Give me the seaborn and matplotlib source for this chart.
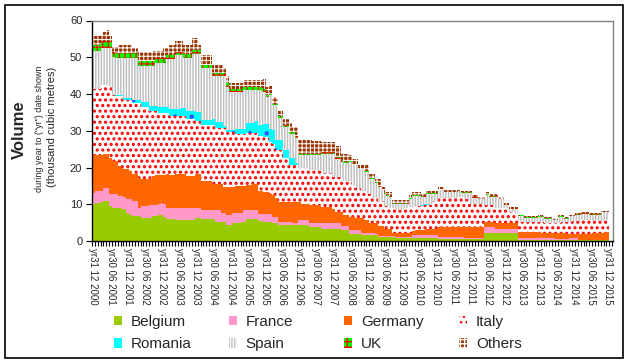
import numpy as np
import pandas as pd
import matplotlib
matplotlib.use("Agg")
import matplotlib.pyplot as plt
import seaborn as sns
from matplotlib.patches import Patch, Rectangle

tick_labels = ["yr31 12 2000", "yr30 06 2001", "yr31 12 2001", "yr30 06 2002", "yr31 12 2002",
               "yr30 06 2003", "yr31 12 2003", "yr30 06 2004", "yr31 12 2004", "yr30 06 2005",
               "yr31 12 2005", "yr30 06 2006", "yr31 12 2006", "yr30 06 2007", "yr31 12 2007",
               "yr30 06 2008", "yr31 12 2008", "yr30 06 2009", "yr31 12 2009", "yr30 06 2010",
               "yr31 12 2010", "yr30 06 2011", "yr31 12 2011", "yr30 06 2012", "yr31 12 2012",
               "yr30 06 2013", "yr31 12 2013", "yr30 06 2014", "yr31 12 2014", "yr30 06 2015",
               "yr31 12 2015"]

belgium = [
    10.1, 10.4, 10.4, 10.7, 10.8, 10.9, 9.5, 9.0, 9.0, 9.0,
    8.6, 8.6, 7.7, 7.2, 6.8, 6.8, 6.8, 6.3, 6.3, 6.3,
    6.3, 6.7, 6.7, 7.0, 7.0, 6.5, 5.9, 5.9, 5.9, 5.6,
    5.6, 5.6, 5.6, 5.6, 5.6, 5.6, 6.3, 6.3, 5.9, 5.9,
    5.9, 5.9, 5.9, 5.2, 5.2, 5.2, 5.2, 4.3, 4.3, 5.0,
    5.0, 5.0, 5.2, 5.2, 5.9, 5.9, 5.9, 5.9, 5.4, 5.4,
    5.2, 5.2, 5.2, 4.8, 4.8, 4.3, 4.3, 4.3, 4.3, 4.3,
    4.3, 4.3, 4.3, 4.3, 4.3, 4.3, 3.9, 3.9, 3.9, 3.9,
    3.4, 3.4, 3.4, 3.4, 3.4, 3.4, 3.4, 3.0, 3.0, 3.0,
    2.0, 2.0, 2.0, 2.0, 1.5, 1.5, 1.5, 1.5, 1.5, 1.5,
    1.0, 1.0, 1.0, 1.0, 1.0, 1.0, 0.9, 0.9, 0.9, 0.9,
    0.9, 0.9, 0.9, 0.9, 0.9, 0.9, 0.9, 0.9, 0.9, 0.9,
    0.9, 0.6, 0.6, 0.6, 0.6, 0.6, 0.6, 0.6, 0.6, 0.6,
    0.6, 0.6, 0.6, 0.6, 0.6, 0.6, 0.6, 2.1, 2.1, 2.1,
    2.1, 2.1, 2.1, 2.1, 2.1, 2.1, 2.1, 2.1, 2.1, 0.3,
    0.3, 0.3, 0.3, 0.3, 0.3, 0.3, 0.3, 0.3, 0.3, 0.3,
    0.3, 0.3, 0.3, 0.3, 0.3, 0.3, 0.3, 0.3, 0.3, 0.3,
    0.3, 0.3, 0.3, 0.3, 0.3, 0.3, 0.3, 0.3, 0.3, 0.3,
    0.3]

france = [
    3.0, 3.2, 3.2, 2.9, 3.7, 3.6, 3.4, 3.7, 3.7, 3.2,
    3.6, 3.3, 3.6, 4.1, 4.1, 4.1, 2.2, 3.2, 3.2, 3.2,
    3.5, 3.1, 3.1, 3.0, 3.4, 3.5, 3.1, 3.1, 3.1, 3.4,
    3.4, 3.4, 3.4, 3.3, 3.3, 3.3, 2.7, 2.7, 2.4, 2.4,
    2.4, 2.4, 2.4, 3.1, 3.1, 2.5, 2.5, 2.9, 2.9, 2.7,
    2.7, 2.7, 2.5, 3.1, 2.4, 2.4, 2.4, 2.4, 2.0, 2.0,
    2.1, 2.1, 2.1, 1.8, 1.8, 0.9, 0.9, 0.9, 0.9, 0.9,
    0.7, 0.7, 1.4, 1.4, 1.4, 1.4, 1.1, 1.1, 1.1, 1.1,
    1.4, 1.4, 1.4, 1.4, 1.4, 1.4, 1.4, 1.1, 1.1, 1.1,
    1.0, 1.0, 1.0, 1.0, 0.7, 0.7, 0.7, 0.7, 0.7, 0.5,
    0.4, 0.4, 0.4, 0.4, 0.3, 0.3, 0.3, 0.3, 0.3, 0.3,
    0.3, 0.3, 0.7, 0.7, 0.7, 0.7, 0.7, 0.7, 0.7, 0.7,
    0.7, 0.6, 0.6, 0.6, 0.6, 0.6, 0.6, 0.6, 0.6, 0.6,
    0.3, 0.3, 0.3, 0.3, 0.3, 0.3, 0.3, 1.6, 1.6, 1.6,
    1.6, 1.1, 1.1, 1.1, 1.1, 1.1, 1.1, 1.1, 1.1, 0.4,
    0.4, 0.4, 0.4, 0.4, 0.4, 0.4, 0.4, 0.4, 0.4, 0.4,
    0.4, 0.4, 0.2, 0.2, 0.2, 0.2, 0.2, 0.4, 0.4, 0.4,
    0.1, 0.1, 0.1, 0.1, 0.1, 0.1, 0.1, 0.1, 0.1, 0.1,
    0.1]

germany = [
    10.2, 9.7, 9.7, 9.7, 9.2, 9.2, 9.7, 9.0, 9.0, 8.2,
    7.7, 7.6, 8.2, 7.7, 7.4, 7.4, 8.2, 7.5, 7.5, 7.5,
    7.2, 7.8, 8.1, 7.9, 7.5, 7.9, 9.3, 8.9, 8.9, 9.1,
    9.1, 9.1, 9.1, 8.7, 8.7, 8.7, 9.1, 9.1, 8.0, 8.0,
    8.0, 8.0, 7.1, 7.1, 7.1, 7.7, 7.0, 7.5, 7.5, 7.0,
    7.2, 7.2, 7.2, 6.6, 6.9, 6.9, 7.3, 7.3, 6.2, 6.2,
    6.1, 6.1, 5.6, 5.9, 5.0, 5.5, 5.5, 5.5, 5.5, 5.5,
    5.7, 5.7, 5.0, 4.5, 4.5, 4.5, 4.8, 4.8, 4.8, 4.8,
    4.5, 4.5, 4.5, 4.5, 3.8, 3.2, 3.2, 3.9, 3.0, 3.0,
    3.6, 3.6, 3.2, 3.2, 4.0, 3.5, 3.5, 2.6, 2.6, 2.8,
    2.7, 2.7, 2.0, 2.0, 2.1, 0.8, 0.9, 0.9, 0.9, 0.9,
    0.9, 0.9, 1.0, 1.4, 1.4, 1.4, 1.4, 1.8, 1.8, 1.8,
    1.8, 2.7, 2.7, 2.7, 2.7, 2.7, 2.7, 2.7, 2.7, 2.7,
    2.8, 2.8, 2.8, 2.8, 2.8, 2.8, 2.8, 1.5, 1.5, 1.5,
    1.5, 1.8, 1.8, 1.8, 1.8, 1.8, 1.8, 1.8, 1.8, 1.8,
    1.8, 1.8, 1.8, 1.8, 1.8, 1.8, 1.8, 1.6, 1.6, 1.6,
    1.6, 1.4, 1.6, 1.6, 1.6, 1.6, 1.4, 1.2, 1.2, 1.2,
    1.5, 1.5, 1.5, 1.5, 1.5, 1.9, 1.9, 1.9, 1.9, 2.1,
    2.1]

italy = [
    18.1, 18.1, 18.1, 19.2, 18.8, 18.8, 19.5, 18.1, 17.7, 19.0,
    19.5, 18.8, 18.8, 19.3, 19.2, 19.2, 20.3, 19.5, 19.5, 19.5,
    18.5, 17.9, 17.6, 16.9, 16.9, 16.9, 16.5, 16.1, 16.1, 15.9,
    15.9, 15.8, 15.8, 15.7, 15.7, 15.7, 14.5, 14.5, 15.4, 15.4,
    15.4, 15.4, 16.3, 15.4, 15.4, 15.4, 16.1, 15.0, 15.0, 15.0,
    14.1, 14.1, 14.1, 14.1, 14.2, 14.2, 13.8, 13.8, 14.9, 14.9,
    14.9, 14.9, 14.0, 14.0, 13.1, 14.0, 14.0, 11.8, 11.8, 10.1,
    10.1, 10.1, 9.3, 9.8, 9.8, 9.8, 9.4, 9.4, 9.4, 9.4,
    9.2, 9.2, 9.2, 9.2, 8.9, 9.5, 9.5, 9.5, 9.2, 9.2,
    9.7, 8.4, 8.3, 8.3, 7.4, 7.9, 7.1, 8.0, 7.0, 7.0,
    6.7, 6.7, 6.2, 6.2, 5.5, 6.8, 6.3, 6.3, 6.3, 6.8,
    6.8, 7.2, 6.7, 6.5, 6.5, 6.5, 6.8, 6.4, 6.4, 7.6,
    7.6, 7.7, 7.7, 7.7, 7.7, 7.7, 7.7, 7.7, 8.1, 8.1,
    7.6, 7.6, 6.5, 6.5, 6.5, 6.5, 6.5, 4.6, 4.6, 4.6,
    4.6, 3.9, 3.9, 3.9, 3.9, 3.9, 3.0, 3.0, 2.3, 3.0,
    2.7, 2.7, 2.7, 2.7, 2.7, 2.7, 2.7, 2.9, 2.7, 2.7,
    2.7, 2.9, 2.9, 2.9, 3.1, 3.1, 3.3, 3.3, 3.6, 3.6,
    3.6, 3.8, 3.8, 3.8, 3.8, 3.2, 3.2, 3.2, 3.2, 3.2,
    3.2]

romania = [
    0.0, 0.0, 0.0, 0.0, 0.0, 0.0, 0.0, 0.0, 0.3, 0.4,
    0.4, 0.6, 0.6, 0.6, 1.0, 1.0, 1.0, 1.2, 1.2, 1.2,
    1.2, 1.2, 1.2, 1.6, 1.6, 1.6, 1.6, 2.0, 2.0, 2.0,
    2.0, 2.2, 2.2, 2.0, 2.0, 2.0, 2.5, 2.5, 1.3, 1.3,
    1.3, 1.3, 1.6, 1.6, 1.6, 1.6, 0.6, 0.6, 0.6, 0.6,
    1.6, 1.6, 1.6, 1.6, 2.7, 2.7, 2.7, 3.2, 3.2, 3.2,
    3.6, 3.6, 3.6, 3.6, 2.7, 2.7, 2.7, 2.2, 2.2, 1.8,
    1.8, 0.5, 0.0, 0.0, 0.0, 0.0, 0.0, 0.0, 0.0, 0.0,
    0.0, 0.0, 0.0, 0.0, 0.0, 0.0, 0.0, 0.0, 0.0, 0.0,
    0.0, 0.0, 0.0, 0.0, 0.0, 0.0, 0.0, 0.0, 0.0, 0.0,
    0.0, 0.0, 0.0, 0.0, 0.0, 0.0, 0.0, 0.0, 0.0, 0.0,
    0.0, 0.0, 0.0, 0.0, 0.0, 0.3, 0.3, 0.3, 0.0, 0.0,
    0.0, 0.0, 0.2, 0.0, 0.0, 0.0, 0.0, 0.0, 0.0, 0.0,
    0.0, 0.0, 0.0, 0.0, 0.0, 0.0, 0.0, 0.0, 0.0, 0.0,
    0.0, 0.0, 0.0, 0.0, 0.0, 0.0, 0.0, 0.0, 0.0, 0.0,
    0.0, 0.0, 0.0, 0.0, 0.0, 0.0, 0.0, 0.0, 0.0, 0.0,
    0.0, 0.0, 0.0, 0.0, 0.0, 0.0, 0.0, 0.0, 0.0, 0.0,
    0.0, 0.0, 0.0, 0.0, 0.0, 0.0, 0.0, 0.0, 0.0, 0.0,
    0.0]

spain = [
    10.2, 10.2, 10.2, 10.0, 10.0, 10.0, 10.4, 10.2, 10.1, 10.0,
    10.0, 10.9, 10.9, 10.9, 11.3, 11.3, 9.0, 9.8, 9.8, 9.8,
    10.8, 10.8, 11.8, 12.1, 12.1, 12.1, 13.1, 13.5, 13.5, 14.5,
    14.5, 14.4, 13.7, 14.5, 14.5, 15.6, 15.8, 15.8, 14.1, 14.1,
    14.1, 14.1, 11.5, 12.4, 12.4, 12.4, 13.4, 11.7, 10.2, 10.2,
    9.9, 9.9, 9.9, 10.4, 8.9, 8.9, 8.9, 8.4, 9.3, 9.0,
    8.6, 7.3, 9.1, 6.8, 9.5, 6.1, 6.1, 6.3, 6.3, 6.6,
    6.6, 6.7, 3.3, 3.3, 3.3, 3.3, 4.1, 4.1, 4.1, 4.1,
    5.3, 5.3, 5.3, 5.3, 6.3, 4.9, 4.9, 4.0, 4.8, 4.8,
    5.2, 5.6, 6.1, 5.0, 5.9, 5.2, 6.0, 4.2, 5.2, 4.0,
    4.0, 3.0, 3.3, 2.7, 3.1, 1.3, 1.8, 1.8, 1.8, 1.3,
    1.3, 2.1, 3.0, 2.8, 2.8, 2.3, 2.0, 2.7, 3.0, 1.8,
    1.8, 2.2, 2.0, 1.6, 1.6, 1.6, 1.6, 1.6, 1.5, 1.0,
    1.7, 1.7, 2.8, 1.6, 1.6, 1.1, 1.1, 1.5, 2.8, 2.2,
    2.2, 3.1, 2.4, 2.4, 0.8, 0.8, 0.6, 0.6, 1.3, 1.3,
    1.6, 1.0, 1.0, 1.1, 1.0, 1.0, 1.3, 1.3, 1.0, 1.0,
    1.0, 0.6, 0.6, 1.5, 1.3, 0.8, 0.8, 1.5, 1.2, 1.6,
    1.6, 1.7, 1.7, 1.7, 1.4, 1.6, 1.6, 1.6, 2.3, 2.1,
    2.1]

uk = [
    1.8, 1.8, 1.8, 1.8, 1.8, 1.8, 1.8, 1.3, 1.3, 1.3,
    1.3, 1.3, 1.3, 1.3, 1.3, 1.3, 1.4, 1.4, 1.4, 1.4,
    1.4, 1.4, 1.2, 1.2, 1.2, 1.2, 1.2, 1.2, 1.2, 1.0,
    1.0, 1.0, 1.0, 1.0, 1.0, 1.0, 1.0, 1.0, 0.9, 0.9,
    0.9, 0.9, 0.9, 0.9, 0.9, 0.9, 0.9, 0.9, 0.9, 0.9,
    0.9, 0.9, 0.9, 0.9, 0.9, 0.9, 0.9, 0.9, 0.9, 0.9,
    0.9, 0.5, 0.5, 0.5, 0.5, 0.5, 0.5, 0.5, 0.5, 0.5,
    0.5, 0.5, 0.5, 0.5, 0.5, 0.5, 0.5, 0.5, 0.5, 0.5,
    0.5, 0.5, 0.5, 0.5, 0.5, 0.5, 0.5, 0.5, 0.5, 0.5,
    0.2, 0.2, 0.2, 0.2, 0.2, 0.2, 0.2, 0.2, 0.2, 0.2,
    0.2, 0.2, 0.2, 0.2, 0.2, 0.2, 0.2, 0.2, 0.2, 0.2,
    0.2, 0.2, 0.2, 0.2, 0.2, 0.2, 0.2, 0.2, 0.2, 0.2,
    0.2, 0.2, 0.2, 0.2, 0.2, 0.2, 0.2, 0.2, 0.2, 0.2,
    0.2, 0.2, 0.2, 0.2, 0.2, 0.2, 0.2, 0.2, 0.2, 0.2,
    0.2, 0.2, 0.2, 0.2, 0.2, 0.2, 0.2, 0.2, 0.2, 0.2,
    0.2, 0.2, 0.2, 0.2, 0.2, 0.2, 0.2, 0.2, 0.2, 0.2,
    0.2, 0.2, 0.2, 0.2, 0.2, 0.2, 0.2, 0.2, 0.2, 0.2,
    0.2, 0.2, 0.2, 0.2, 0.2, 0.2, 0.2, 0.2, 0.2, 0.2,
    0.2]

others = [
    2.3, 2.3, 2.7, 1.8, 2.7, 3.0, 1.6, 1.6, 1.8, 2.3,
    2.3, 2.3, 2.3, 2.3, 1.4, 1.4, 2.5, 2.5, 2.5, 2.5,
    2.5, 2.7, 1.9, 1.9, 1.9, 2.8, 1.8, 2.5, 2.5, 2.8,
    2.8, 2.8, 2.6, 2.6, 2.6, 3.3, 3.3, 1.5, 2.7, 2.7,
    2.7, 2.7, 2.3, 2.3, 2.3, 2.3, 1.4, 2.1, 1.6, 1.6,
    1.6, 1.6, 1.6, 2.0, 2.0, 2.0, 2.0, 2.0, 2.0, 2.3,
    2.8, 2.2, 2.2, 1.8, 1.8, 1.6, 1.6, 1.8, 1.8, 2.3,
    1.3, 2.5, 3.6, 3.6, 3.6, 3.6, 3.6, 3.3, 3.3, 3.3,
    2.7, 2.7, 2.7, 2.7, 2.7, 2.9, 2.9, 1.8, 2.2, 2.2,
    1.8, 1.5, 1.5, 1.3, 1.3, 2.0, 2.0, 1.1, 1.1, 0.9,
    1.9, 0.8, 1.7, 0.8, 1.1, 0.8, 0.8, 0.8, 0.8, 0.8,
    0.8, 0.8, 0.8, 0.8, 0.8, 0.5, 0.5, 0.7, 0.7, 0.7,
    0.7, 0.7, 0.7, 0.5, 0.5, 0.5, 0.5, 0.5, 0.5, 0.4,
    0.4, 0.4, 0.4, 0.4, 0.4, 0.4, 0.4, 0.4, 0.5, 0.5,
    0.5, 0.5, 0.4, 0.4, 0.4, 0.4, 0.4, 0.4, 0.4, 0.4,
    0.4, 0.4, 0.4, 0.4, 0.4, 0.4, 0.4, 0.4, 0.4, 0.4,
    0.4, 0.4, 0.4, 0.4, 0.4, 0.4, 0.4, 0.4, 0.4, 0.4,
    0.4, 0.4, 0.4, 0.4, 0.4, 0.4, 0.4, 0.4, 0.4, 0.4,
    0.4]

series_names = ["Belgium", "France", "Germany", "Italy", "Romania", "Spain", "UK", "Others"]
styles = {
    "Belgium": dict(face="#99CC00", hatch=None, hc="#99CC00", hlw=1.0),
    "France": dict(face="#FF99CC", hatch=None, hc="#FF99CC", hlw=1.0),
    "Germany": dict(face="#FF6600", hatch=None, hc="#FF6600", hlw=1.0),
    "Italy": dict(face="#FFFFFF", hatch="...", hc="#FF0000", hlw=1.5),
    "Romania": dict(face="#00FFFF", hatch=".", hc="#3355FF", hlw=0.8),
    "Spain": dict(face="#FFFFFF", hatch="||||||", hc="#C0C0C0", hlw=1.1),
    "UK": dict(face="#00FF00", hatch="+++", hc="#FF0000", hlw=0.8),
    "Others": dict(face="#993300", hatch="++++", hc="#FFFFFF", hlw=0.7),
}

sns.set_theme(style="white")
plt.rcParams["font.family"] = ["Liberation Sans", "DejaVu Sans"]

df = pd.DataFrame({
    "month": np.arange(len(belgium)),
    "Belgium": belgium, "France": france, "Germany": germany, "Italy": italy,
    "Romania": romania, "Spain": spain, "UK": uk, "Others": others,
})
cum = df[series_names].cumsum(axis=1)
df_plot = pd.concat([df[["month"]], cum.add_prefix("cum_")], axis=1)

W, H = 628, 363
fig = plt.figure(figsize=(W / 100, H / 100), dpi=100)
fig.patch.set_facecolor("white")
ax = fig.add_axes([92 / W, 1 - 241 / H, 521 / W, 220.5 / H])
ax.set_facecolor("white")

for name in reversed(series_names):
    st = styles[name]
    n0 = len(ax.patches)
    with plt.rc_context({"hatch.linewidth": st["hlw"]}):
        sns.barplot(data=df_plot, x="month", y="cum_" + name, ax=ax, color=st["face"],
                    width=1.0, saturation=1, errorbar=None, linewidth=0)
    for p in ax.patches[n0:]:
        p.set_facecolor(st["face"])
        p.set_edgecolor(st["hc"])
        p.set_linewidth(0)
        if st["hatch"]:
            p.set_hatch(st["hatch"])
            if hasattr(p, "set_hatch_linewidth"):
                p.set_hatch_linewidth(st["hlw"])
        else:
            p.set_antialiased(False)

ax.set_xlim(-0.5, 181.8)
ax.set_ylim(0, 60)
ax.set_yticks(np.arange(0, 61, 10))
ax.set_xticks(np.arange(0, len(belgium), 6))
ax.set_xticklabels(tick_labels, rotation=270, fontsize=7)
ax.set_xticks(np.arange(-0.5, 182, 1), minor=True)
ax.tick_params(axis="x", which="major", length=0, pad=5, bottom=True)
ax.tick_params(axis="x", which="minor", length=3.5, width=0.8, color="black", bottom=True)
ax.tick_params(axis="y", which="major", length=4, width=0.8, color="black", left=True,
               labelsize=8, pad=3)
ax.set_xlabel("")
ax.set_ylabel("")
ax.grid(False)
for side in ["top", "right"]:
    ax.spines[side].set_color("#808080")
    ax.spines[side].set_linewidth(1.0)
for side in ["left", "bottom"]:
    ax.spines[side].set_color("black")
    ax.spines[side].set_linewidth(1.0)

fig.text(19.5 / W, 1 - 130 / H, "Volume", rotation=90, fontsize=12, fontweight="bold",
         ha="center", va="center")
fig.text(39 / W, 1 - 129 / H, 'during year to ("yr") date shown', rotation=90, fontsize=6.5,
         ha="center", va="center")
fig.text(52 / W, 1 - 127 / H, "(thousand cubic metres)", rotation=90, fontsize=8,
         ha="center", va="center")

def handle(name):
    st = styles[name]
    return Patch(facecolor=st["face"], edgecolor=st["hc"], hatch=st["hatch"], linewidth=0)

columns = [("Belgium", "Romania"), ("France", "Spain"), ("Germany", "UK"), ("Italy", "Others")]
col_x = [114, 229, 344, 459]
for (a, b), x in zip(columns, col_x):
    fig.legend(handles=[handle(a), handle(b)], labels=[a, b], loc="upper left",
               bbox_to_anchor=(x / W, 1 - 315 / H), frameon=False, fontsize=11,
               handlelength=0.55, handleheight=0.55, handletextpad=0.55,
               labelspacing=0.55, borderpad=0, borderaxespad=0)

fig.add_artist(Rectangle((5 / W, 5 / H), 618 / W, 353 / H, transform=fig.transFigure,
                         fill=False, edgecolor="black", linewidth=1.2))

fig.savefig("out.png", dpi=100, facecolor="white")
